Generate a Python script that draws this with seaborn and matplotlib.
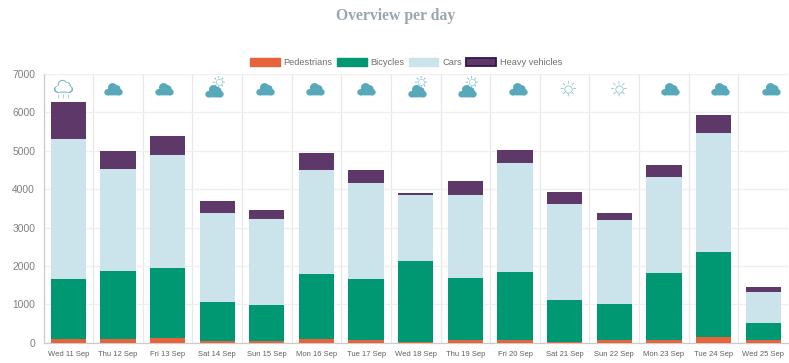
import numpy as np
import matplotlib
matplotlib.use('Agg')
import matplotlib.pyplot as plt
from matplotlib.patches import Patch
from matplotlib.path import Path
import seaborn as sns

days = ['Wed 11 Sep', 'Thu 12 Sep', 'Fri 13 Sep', 'Sat 14 Sep', 'Sun 15 Sep',
        'Mon 16 Sep', 'Tue 17 Sep', 'Wed 18 Sep', 'Thu 19 Sep', 'Fri 20 Sep',
        'Sat 21 Sep', 'Sun 22 Sep', 'Mon 23 Sep', 'Tue 24 Sep', 'Wed 25 Sep']
pedestrians = [104, 87, 113, 35, 52, 87, 70, 26, 61, 61, 26, 61, 70, 157, 61]
bicycles = [1566, 1768, 1827, 1020, 940, 1690, 1600, 2115, 1628, 1792, 1096, 960, 1756, 2193, 465]
cars = [3640, 2670, 2940, 2315, 2228, 2733, 2480, 1705, 2151, 2817, 2488, 2169, 2494, 3110, 784]
heavy = [950, 461, 495, 320, 230, 430, 340, 54, 380, 360, 320, 190, 300, 460, 140]
weather = ['rain', 'cloud', 'cloud', 'partly', 'cloud', 'cloud', 'cloud', 'partly',
           'partly', 'cloud', 'sun', 'sun', 'cloud', 'cloud', 'cloud']

sns.set_theme(style='white')
plt.rcParams['font.family'] = ['Liberation Sans', 'DejaVu Sans']

fig, ax = plt.subplots(figsize=(7.89, 3.63), dpi=100)
fig.subplots_adjust(left=43.5 / 789, right=788 / 789, bottom=1 - 342.7 / 363, top=1 - 74 / 363)

series = [('Pedestrians', pedestrians, '#e5643c'), ('Bicycles', bicycles, '#009873'),
          ('Cars', cars, '#cbe4ec'), ('Heavy vehicles', heavy, '#5e3869')]
tops = np.cumsum([s[1] for s in series], axis=0)

# stacked bars: tallest first, so each lower series sits on top of it
for (name, vals, col), top in reversed(list(zip(series, tops))):
    sns.barplot(x=days, y=top, color=col, saturation=1, width=0.71, ax=ax, linewidth=0, zorder=3)

ax.set_xlim(-0.5, 14.5)
ax.set_ylim(0, 7000)
ax.set_yticks(range(0, 7001, 1000))
ax.set_xticks(np.arange(-0.5, 15, 1), minor=True)
ax.set_axisbelow(True)
ax.grid(axis='y', color='#efefef', linewidth=0.9)
ax.grid(axis='x', which='minor', color='#e8e8e8', linewidth=0.9)
ax.tick_params(axis='x', which='major', length=0, pad=6, labelsize=5.5, labelcolor='#606060')
ax.tick_params(axis='x', which='minor', length=4, width=0.8, color='#dddddd')
ax.tick_params(axis='y', length=4, width=0.8, color='#dddddd', pad=2, labelsize=7.4, labelcolor='#808080')
for side in ['top', 'right']:
    ax.spines[side].set_visible(False)
for side in ['left', 'bottom']:
    ax.spines[side].set_color('#cccccc')
    ax.spines[side].set_linewidth(0.9)


# weather icons, as scatter markers along the top of the plot
def circles(*items):
    return [Path.circle(c, r) for c, r in items]


cloud = Path.make_compound_path(
    *circles(((-0.66, -0.3), 0.34), ((0.66, -0.3), 0.34), ((-0.1, 0.2), 0.5), ((0.38, 0.08), 0.38)),
    Path([(-0.66, -0.64), (0.66, -0.64), (0.66, 0.0), (-0.66, 0.0), (-0.66, -0.64)],
         [Path.MOVETO, Path.LINETO, Path.LINETO, Path.LINETO, Path.CLOSEPOLY]))
ang = np.arange(8) * np.pi / 4
rays = Path(np.column_stack([np.cos(ang) * 0.62, np.sin(ang) * 0.62, np.cos(ang), np.sin(ang)]).reshape(-1, 2),
            [Path.MOVETO, Path.LINETO] * 8)
teal = '#57a9ba'
icon_x = np.arange(15) * 1.019 - 0.115
icon_y = 6620
for kind in ['rain', 'cloud', 'partly', 'sun']:
    xs = icon_x[[w == kind for w in weather]]
    y = np.full(len(xs), icon_y)
    if kind == 'cloud':
        ax.scatter(xs, y, marker=cloud, s=175, color=teal, linewidths=0, zorder=4)
    elif kind == 'partly':
        ax.scatter(xs + 0.09, y + 170, marker=rays, s=75, facecolors='none', edgecolors=teal, linewidths=0.5, zorder=4)
        ax.scatter(xs + 0.09, y + 170, marker='o', s=20, facecolors='white', edgecolors='#a9d3dc', linewidths=0.6, zorder=4)
        ax.scatter(xs, y - 50, marker=cloud, s=175, color=teal, linewidths=0, zorder=5)
    elif kind == 'sun':
        ax.scatter(xs, y, marker=rays, s=125, facecolors='none', edgecolors='#8fc4cf', linewidths=0.6, zorder=4)
        ax.scatter(xs, y, marker='o', s=28, facecolors='white', edgecolors='#8fc4cf', linewidths=0.6, zorder=4)
    else:
        ax.scatter(xs, y + 60, marker=cloud, s=190, color='#6fb3c2', linewidths=0, zorder=4)
        ax.scatter(xs, y + 60, marker=cloud, s=135, color='white', linewidths=0, zorder=5)
        ax.scatter(np.repeat(xs, 3) + np.tile([-0.1, 0, 0.1], len(xs)), np.full(3 * len(xs), y[0] - 190),
                   marker='|', s=6, color='#8fc4cf', linewidths=0.5, zorder=5)

handles = [Patch(facecolor=c, edgecolor=c, label=n) for n, _, c in series]
handles[-1].set_edgecolor('#35154a')
handles[-1].set_linewidth(1.3)
leg = fig.legend(handles=handles, ncol=4, loc='center', bbox_to_anchor=(406 / 789, 1 - 62.5 / 363), frameon=False,
                 fontsize=6.7, handlelength=3.2, handleheight=1.05, handletextpad=0.4, columnspacing=0.45,
                 labelcolor='#707070')

fig.text(396 / 789, 1 - 15.5 / 363, 'Overview per day', ha='center', va='center', family='Liberation Serif',
         fontweight='bold', fontsize=11.3, color='#9aa6ae')

plt.savefig('out.png', dpi=100)
